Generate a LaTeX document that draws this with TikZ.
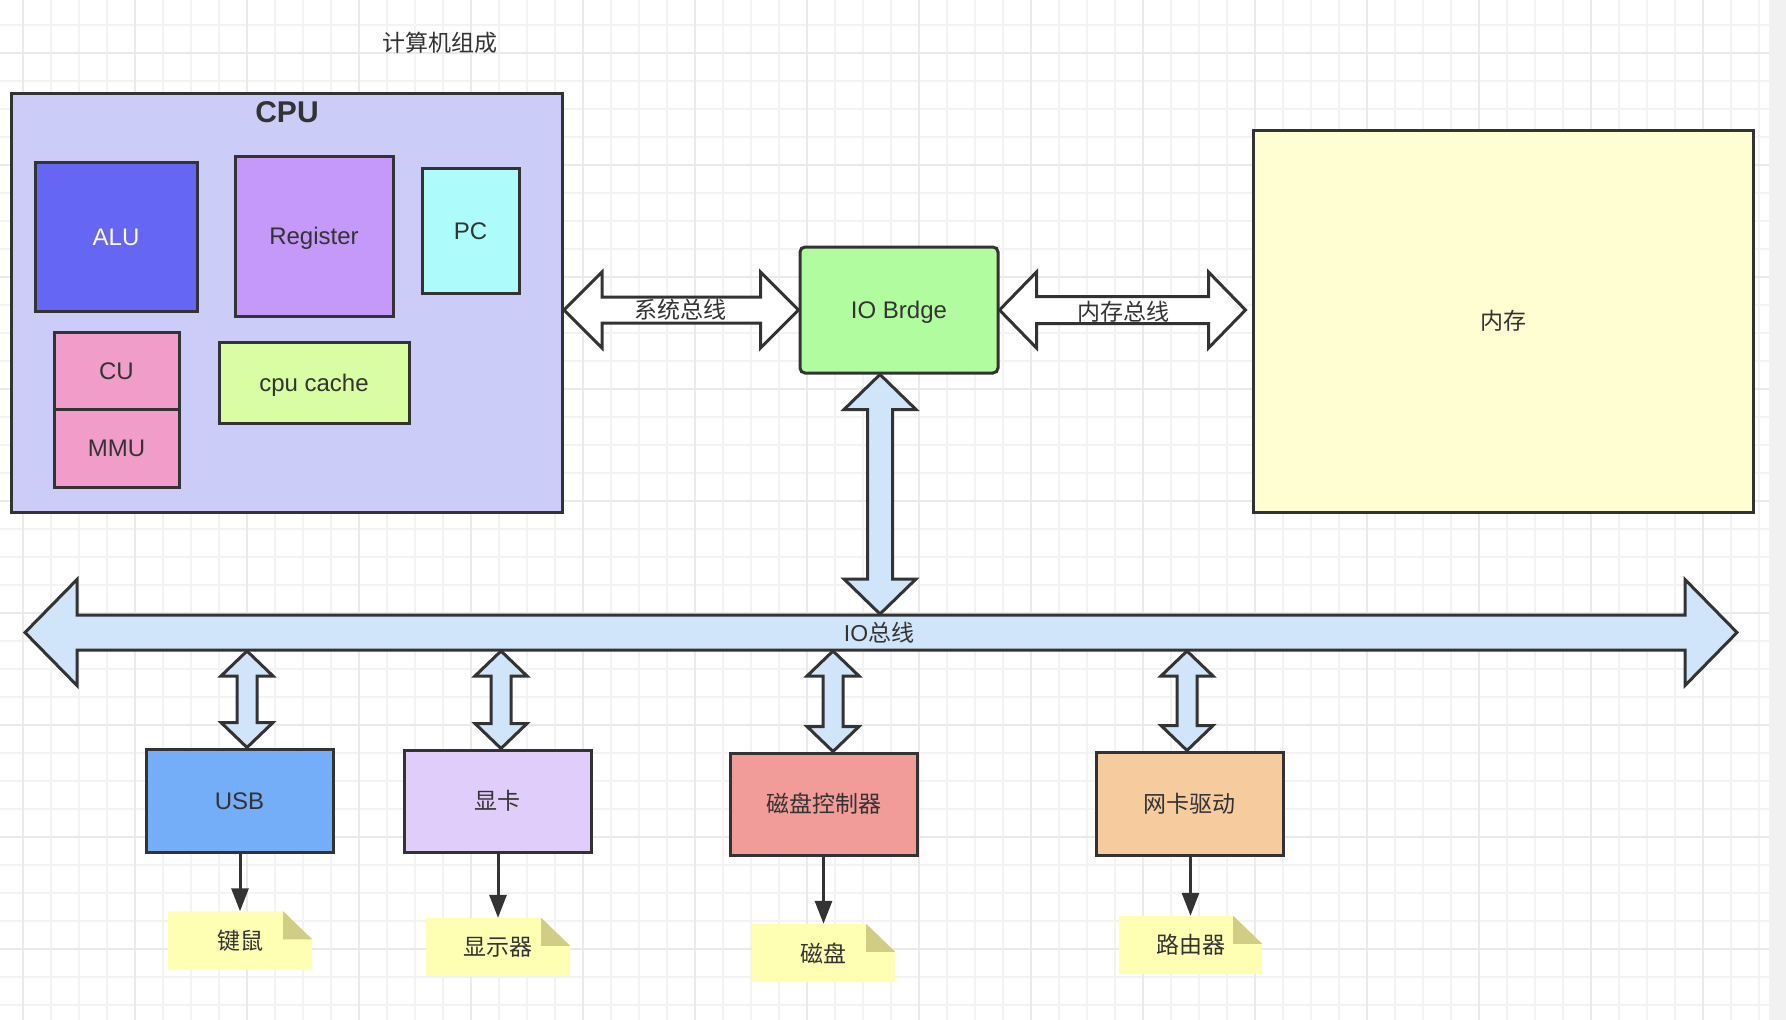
\documentclass[tikz,border=0pt]{standalone}
\usepackage{fontspec}
\setmainfont{Liberation Sans}
\newfontfamily\cjk{Noto Sans CJK SC}
\usetikzlibrary{arrows.meta,calc}
\definecolor{lc}{HTML}{333333}
\definecolor{txt}{HTML}{333333}
\definecolor{gridminor}{HTML}{F3F3F3}
\definecolor{gridmajor}{HTML}{EAEAEA}
\definecolor{bandF}{HTML}{F1F1F1}
\definecolor{cpuF}{HTML}{CCCCF8}
\definecolor{aluF}{HTML}{6666F5}
\definecolor{regF}{HTML}{C499F9}
\definecolor{pcF}{HTML}{AEFBFB}
\definecolor{cuF}{HTML}{F19DC9}
\definecolor{cacheF}{HTML}{D8FDA2}
\definecolor{iobF}{HTML}{B2FCA0}
\definecolor{memF}{HTML}{FEFED2}
\definecolor{busF}{HTML}{D0E4FA}
\definecolor{usbF}{HTML}{75AEF8}
\definecolor{gpuF}{HTML}{E1CDF9}
\definecolor{dcF}{HTML}{F19C98}
\definecolor{nicF}{HTML}{F6CC9F}
\definecolor{noteF}{HTML}{FFFFB4}
\definecolor{foldF}{HTML}{D1CD85}
\pgfdeclarelayer{gridlayer}
\pgfdeclarelayer{bglayer}
\pgfsetlayers{gridlayer,bglayer,main}
% horizontal double block arrow: style, left point, right point, shaft half, head half, head length
\newcommand\hdarrow[6]{%
  \path[#1] let \p1=#2, \p2=#3 in
    (\x1,\y1) -- (\x1+#6,\y1+#5) -- (\x1+#6,\y1+#4) -- (\x2-#6,\y1+#4) -- (\x2-#6,\y1+#5)
    -- (\x2,\y1) -- (\x2-#6,\y1-#5) -- (\x2-#6,\y1-#4) -- (\x1+#6,\y1-#4) -- (\x1+#6,\y1-#5) -- cycle;}
% vertical double block arrow: style, top point, bottom point, x point, shaft half, head half, head length
\newcommand\vdarrow[7]{%
  \path[#1] let \p1=#2, \p2=#3, \p3=#4 in
    (\x3,\y1) -- (\x3+#6,\y1-#7) -- (\x3+#5,\y1-#7) -- (\x3+#5,\y2+#7) -- (\x3+#6,\y2+#7)
    -- (\x3,\y2) -- (\x3-#6,\y2+#7) -- (\x3-#5,\y2+#7) -- (\x3-#5,\y1-#7) -- (\x3-#6,\y1-#7) -- cycle;}
\begin{document}
\begin{tikzpicture}[x=1pt,y=-1pt,
  box/.style={draw=lc, line width=3pt, inner sep=0pt, text=txt,
    font=\fontsize{24}{28}\selectfont, text height=17pt, text depth=0pt},
  cbox/.style={draw=lc, line width=3pt, inner sep=0pt, text=txt,
    font=\cjk\fontsize{23}{27}\selectfont},
  note/.style={inner sep=0pt, text=txt, font=\cjk\fontsize{23}{27}\selectfont,
    minimum width=144pt, minimum height=58pt},
  lbl/.style={inner sep=0pt, text=txt, font=\cjk\fontsize{23}{27}\selectfont},
  whitearrow/.style={draw=lc, fill=white, line width=3pt},
  bluearrow/.style={draw=lc, fill=busF, line width=3pt},
  thinarrow/.style={draw=lc, line width=3pt, -{Triangle[length=23pt,width=17pt]}}
]
\useasboundingbox (0,0) rectangle (1786,1020);
\begin{pgfonlayer}{gridlayer}
  \fill[white] (0,0) rectangle (1786,1020);
  \foreach \i in {0,...,62} \draw[gridminor, line width=1.5pt] ({23+28*\i},0) -- ({23+28*\i},1020);
  \foreach \j in {0,...,35} \draw[gridminor, line width=1.5pt] (0,{25+28*\j}) -- (1769,{25+28*\j});
  \foreach \i in {0,...,15} \draw[gridmajor, line width=2pt] ({23+112*\i},0) -- ({23+112*\i},1020);
  \foreach \j in {0,...,8} \draw[gridmajor, line width=2pt] (0,{53+112*\j}) -- (1769,{53+112*\j});
  \fill[bandF] (1769,0) rectangle (1786,1020);
\end{pgfonlayer}

% title
\node[lbl] (title) at (440,43) {计算机组成};

% CPU
\node[box, fill=cpuF, minimum width=551pt, minimum height=419pt] (cpu) at (287,302.5) {};
\node[text=txt, inner sep=0pt, font=\bfseries\fontsize{30}{34}\selectfont, text height=21.5pt, text depth=0pt] (cpulbl) at (287,112) {CPU};
\node[box, fill=aluF, text=white, minimum width=162pt, minimum height=149pt] (alu) at (116,236.5) {ALU};
\node[box, fill=regF, minimum width=158pt, minimum height=160pt] (reg) at (314,236) {Register};
\node[box, fill=pcF, minimum width=97pt, minimum height=125pt] (pc) at (470.5,230.5) {PC};
\node[box, fill=cuF, minimum width=125pt, minimum height=77pt] (cu) at (116.5,370.5) {CU};
\node[box, fill=cuF, minimum width=125pt, minimum height=78pt] (mmu) at (116.5,448) {MMU};
\node[box, fill=cacheF, minimum width=190pt, minimum height=81pt] (cache) at (314,382.5) {cpu cache};

% IO bridge and memory
\node[box, fill=iobF, rounded corners=5pt, minimum width=198pt, minimum height=126pt] (iob) at (899,310) {IO Brdge};
\node[cbox, fill=memF, minimum width=500pt, minimum height=382pt] (mem) at (1503,321) {内存};

% system bus and memory bus
\coordinate (systip) at (cpu.east |- iob.west);
\hdarrow{whitearrow}{(systip)}{(iob.west)}{13pt}{38pt}{38pt}
\node[lbl] (sysbus) at (680,310) {系统总线};
\coordinate (memtip) at ($(mem.west)+(-6,2)$);
\hdarrow{whitearrow}{(iob.east)}{(memtip)}{13.5pt}{38pt}{37pt}
\node[lbl] (membus) at (1123,312) {内存总线};

% IO bus
\coordinate (busL) at (25,632.5);
\coordinate (busR) at (1737,632.5);
\hdarrow{bluearrow}{(busL)}{(busR)}{17.5pt}{53pt}{52pt}
\node[lbl] (iobus) at (879,633) {{\fontspec{Liberation Sans}IO}总线};

% bridge <-> IO bus
\coordinate (bb) at (880,614);
\vdarrow{bluearrow}{(iob.south)}{(bb)}{(bb)}{12.5pt}{36pt}{35pt}

% devices
\node[box, fill=usbF, minimum width=187pt, minimum height=103pt] (usb) at (239.5,800.5) {USB};
\node[cbox, fill=gpuF, minimum width=187pt, minimum height=102pt] (gpu) at (497.5,801) {显卡};
\node[cbox, fill=dcF, minimum width=187pt, minimum height=102pt] (dc) at (823.5,804) {磁盘控制器};
\node[cbox, fill=nicF, minimum width=187pt, minimum height=103pt] (nic) at (1189.5,803.5) {网卡驱动};

\coordinate (t1) at (247,651);
\coordinate (t2) at (501,651);
\coordinate (t3) at (833,651);
\coordinate (t4) at (1187,651);
\vdarrow{bluearrow}{(t1)}{(usb.north)}{(t1)}{10pt}{26pt}{25pt}
\vdarrow{bluearrow}{(t2)}{(gpu.north)}{(t2)}{10pt}{26pt}{25pt}
\vdarrow{bluearrow}{(t3)}{(dc.north)}{(t3)}{10pt}{26pt}{25pt}
\vdarrow{bluearrow}{(t4)}{(nic.north)}{(t4)}{10pt}{26pt}{25pt}

% notes
\node[note] (kbd) at (240,940.5) {键鼠};
\node[note] (mon) at (498,947) {显示器};
\node[note, minimum width=143pt] (disk) at (823.5,953) {磁盘};
\node[note, minimum width=143pt] (router) at (1190.5,945) {路由器};
\begin{pgfonlayer}{bglayer}
  \foreach \n in {kbd,mon,disk,router} {
    \fill[noteF] (\n.south west) -- (\n.north west) -- ($(\n.north east)+(-29,0)$)
      -- ($(\n.north east)+(0,28)$) -- (\n.south east) -- cycle;
    \fill[foldF] ($(\n.north east)+(-29,0)$) -- ($(\n.north east)+(-29,28)$)
      -- ($(\n.north east)+(0,28)$) -- cycle;
  }
\end{pgfonlayer}

\draw[thinarrow] (kbd.north |- usb.south) -- (kbd.north);
\draw[thinarrow] (mon.north |- gpu.south) -- (mon.north);
\draw[thinarrow] (disk.north |- dc.south) -- (disk.north);
\draw[thinarrow] (router.north |- nic.south) -- (router.north);
\end{tikzpicture}
\end{document}
